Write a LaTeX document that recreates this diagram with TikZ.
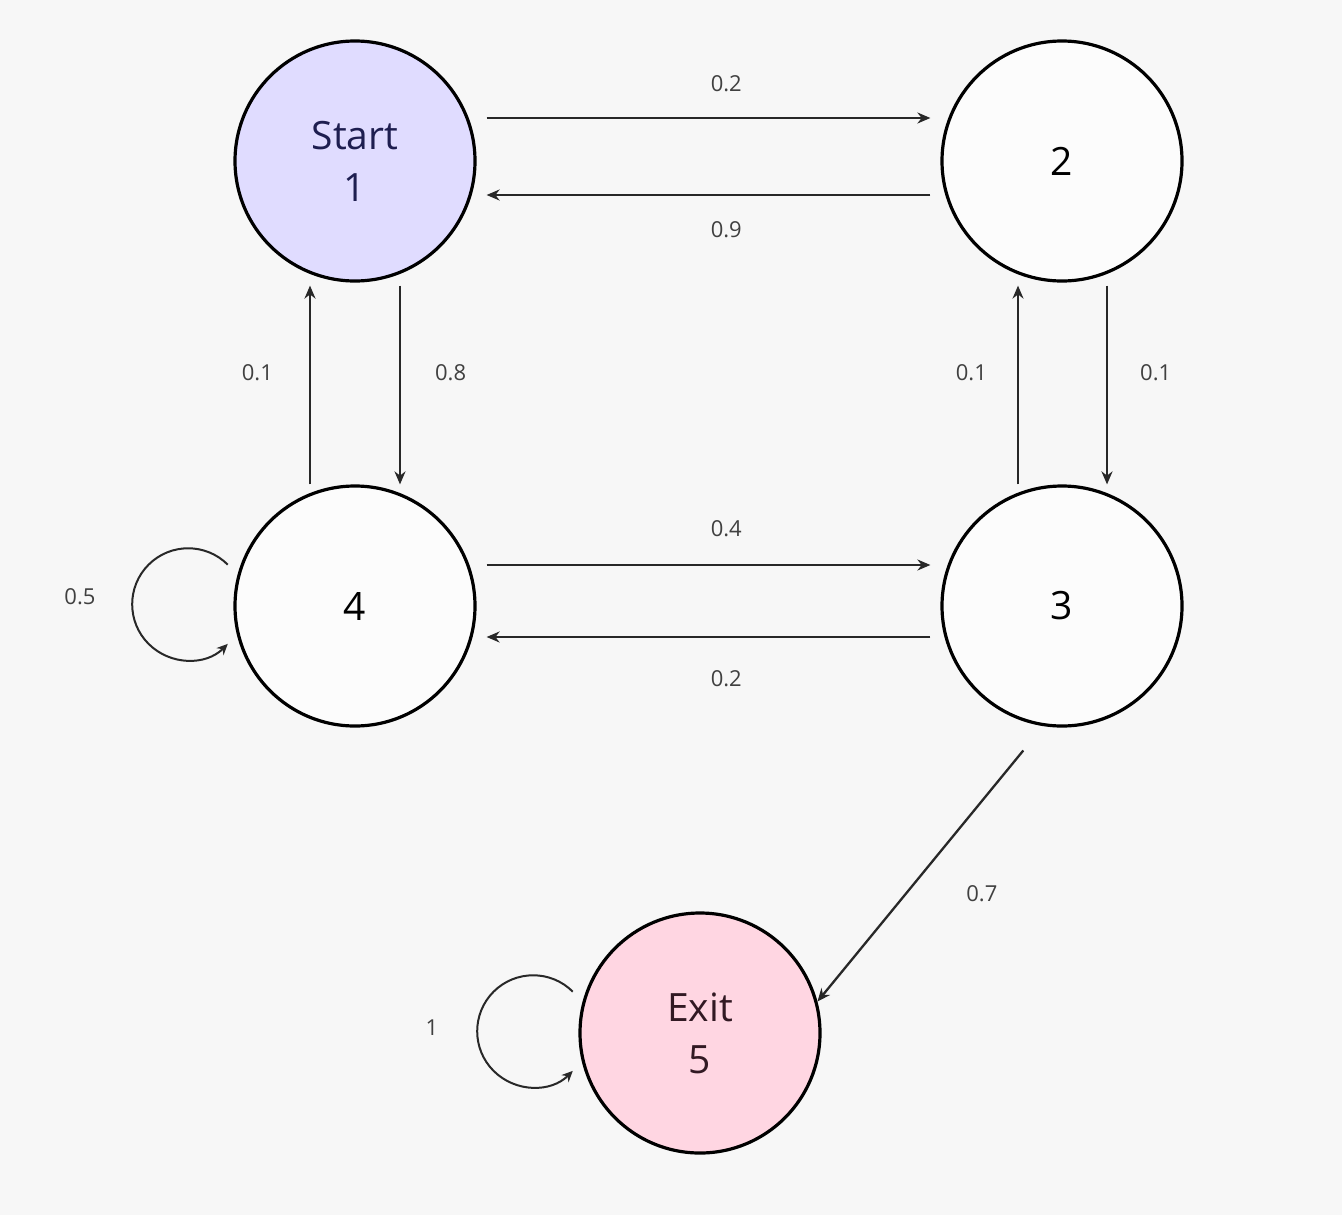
\documentclass[tikz,border=0pt]{standalone}
\usepackage{fontspec}
\setmainfont{Open Sans}
\usetikzlibrary{arrows.meta,calc}
\definecolor{bg}{RGB}{247,247,247}
\definecolor{startfill}{RGB}{224,220,255}
\definecolor{exitfill}{RGB}{255,214,226}
\definecolor{edgecol}{RGB}{40,40,40}
\definecolor{starttext}{RGB}{30,30,80}
\definecolor{exittext}{RGB}{50,25,35}
\begin{document}
\begin{tikzpicture}[x=0.5pt,y=-0.5pt,
  state/.style={circle, draw=black, line width=1.6pt, minimum size=120pt, inner sep=0pt,
    align=center, font=\fontsize{19.5}{26}\selectfont},
  arr/.style={draw=edgecol, line width=1.15pt, -{Stealth[length=6.5pt,width=5.5pt]}},
  loopedge/.style={draw=edgecol, line width=1pt, -{Stealth[length=5.5pt,width=5pt]}},
  lbl/.style={font=\fontsize{11}{13}\selectfont, text=black!75, inner sep=0pt}
]
\fill[bg] (0,0) rectangle (1342,1215);
\useasboundingbox (0,0) rectangle (1342,1215);

\node[state, fill=startfill, text=starttext] (n1) at (355,161) {Start\\1};
\node[state, fill=white!60!bg] (n2) at (1062,161) {2};
\node[state, fill=white!60!bg] (n4) at (355,606) {4};
\node[state, fill=white!60!bg] (n3) at (1062,606) {3};
\node[state, fill=exitfill, text=exittext] (n5) at (700,1033) {Exit\\5};

% top pair
\draw[arr] ([yshift=21.5pt,xshift=5pt]n1.east) -- node[lbl, pos=0.54, above=12.5pt] (l12) {0.2} ([yshift=21.5pt,xshift=-5pt]n2.west);
\draw[arr] ([yshift=-17pt,xshift=-5pt]n2.west) -- node[lbl, pos=0.46, below=12.5pt] (l21) {0.9} ([yshift=-17pt,xshift=5pt]n1.east);

% left pair
\draw[arr] ([xshift=-22.5pt]n4.north) -- node[lbl, pos=0.56, left=18pt] (l41) {0.1} ([xshift=-22.5pt,yshift=-1.5pt]n1.south);
\draw[arr] ([xshift=22.5pt,yshift=-1.5pt]n1.south) -- node[lbl, pos=0.44, right=17pt] (l14) {0.8} ([xshift=22.5pt]n4.north);

% right pair
\draw[arr] ([xshift=-22pt]n3.north) -- node[lbl, pos=0.56, left=15pt] (l32) {0.1} ([xshift=-22pt,yshift=-1.5pt]n2.south);
\draw[arr] ([xshift=22.5pt,yshift=-1.5pt]n2.south) -- node[lbl, pos=0.44, right=16pt] (l23) {0.1} ([xshift=22.5pt]n3.north);

% bottom pair
\draw[arr] ([yshift=20.5pt,xshift=5pt]n4.east) -- node[lbl, pos=0.54, above=13.5pt] (l43) {0.4} ([yshift=20.5pt,xshift=-5pt]n3.west);
\draw[arr] ([yshift=-15.5pt,xshift=-5pt]n3.west) -- node[lbl, pos=0.46, below=16pt] (l34) {0.2} ([yshift=-15.5pt,xshift=5pt]n4.east);

% 3 -> 5
\draw[arr] ($(n3.center)!1.23!(n3.255)$) -- node[lbl, pos=0.42, xshift=22.5pt, yshift=-19pt] (l35) {0.7} (n5.15);

% self loops
\draw[loopedge] ($(n4.center)!1.1!(n4.162)$) arc[start angle=45, end angle=315, radius=28pt];
\node[lbl] (l44) at ([xshift=-137.5pt,yshift=4.5pt]n4.center) {0.5};
\draw[loopedge] ($(n5.center)!1.1!(n5.162)$) arc[start angle=45, end angle=315, radius=28pt];
\node[lbl] (l55) at ([xshift=-134pt,yshift=2.5pt]n5.center) {1};
\end{tikzpicture}
\end{document}
